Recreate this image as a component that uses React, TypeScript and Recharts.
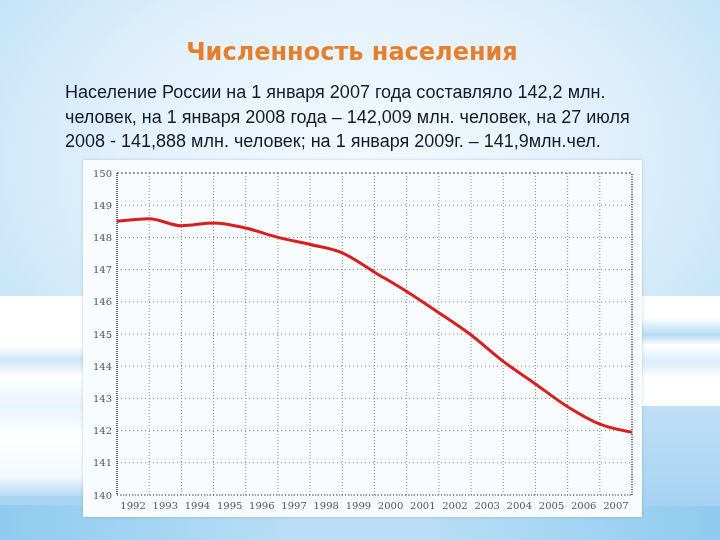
import React from 'react';
import { LineChart, Line, XAxis, YAxis, CartesianGrid, ReferenceLine } from 'recharts';

const years = [1992, 1993, 1994, 1995, 1996, 1997, 1998, 1999, 2000, 2001, 2002, 2003, 2004, 2005, 2006, 2007, 2008];
const population = [148.5, 148.58, 148.36, 148.45, 148.29, 148.0, 147.78, 147.52, 146.92, 146.32, 145.66, 144.97, 144.15, 143.45, 142.74, 142.2, 141.95];
const yearLabels = ['1992', '1993', '1994', '1995', '1996', '1997', '1998', '1999', '2000', '2001', '2002', '2003', '2004', '2005', '2006', '2007'];
const yTicks = [140, 141, 142, 143, 144, 145, 146, 147, 148, 149, 150];
const gridYears = [1993, 1994, 1995, 1996, 1997, 1998, 1999, 2000, 2001, 2002, 2003, 2004, 2005, 2006, 2007];

const title = 'Численность населения';
const paragraphLines = [
  'Население России на 1 января 2007 года составляло 142,2 млн.',
  'человек, на 1 января 2008 года – 142,009 млн. человек, на 27 июля',
  '2008 - 141,888 млн. человек; на 1 января 2009г. – 141,9млн.чел.',
];

const data = years.map((y, i) => ({ year: y, value: population[i] }));
const labelTicks = yearLabels.map((l) => Number(l) + 0.5);

export default function App() {
  return (
    <div
      style={{
        position: 'fixed',
        left: 0,
        top: 0,
        width: 720,
        height: 540,
        overflow: 'hidden',
        background:
          'radial-gradient(ellipse 75% 70% at 50% 30%, #f4fafe 0%, #e2f1fc 45%, #c4e3f8 80%, #a9d5f3 100%)',
      }}
    >
      {/* bottom band */}
      <div style={{ position: 'absolute', left: 0, top: 505, width: 720, height: 35, background: 'linear-gradient(90deg, #8fcbef 0%, #b9def6 40%, #b9def6 60%, #8fcbef 100%)' }} />
      {/* side streaks left */}
      <div style={{ position: 'absolute', left: 0, top: 296, width: 90, height: 200, background: 'linear-gradient(180deg, #ffffff 0%, #ffffff 25%, #cfe7f7 32%, #ffffff 40%, #e8f4fc 55%, #ffffff 70%, #f4f9fd 90%, #b4dbf4 100%)' }} />
      {/* side streaks right */}
      <div style={{ position: 'absolute', left: 640, top: 296, width: 80, height: 110, background: 'linear-gradient(180deg, #ffffff 0%, #ffffff 20%, #b5dbf4 35%, #ffffff 45%, #dcedf9 60%, #ffffff 75%, #ffffff 100%)' }} />
      <div style={{ position: 'absolute', left: 640, top: 406, width: 80, height: 100, background: 'linear-gradient(180deg, #bfe0f6 0%, #a6d3f2 100%)' }} />

      <div
        style={{
          position: 'absolute',
          left: 0,
          top: 37,
          width: 704,
          textAlign: 'center',
          fontFamily: '"DejaVu Sans", Verdana, sans-serif',
          fontWeight: 'bold',
          fontSize: 24,
          color: '#e57f2e',
          lineHeight: '30px',
        }}
      >
        {title}
      </div>
      <div
        style={{
          position: 'absolute',
          left: 65,
          top: 80,
          fontFamily: '"Liberation Sans", Arial, sans-serif',
          fontSize: 18,
          lineHeight: '24.5px',
          color: '#151a2c',
          whiteSpace: 'nowrap',
        }}
      >
        {paragraphLines.map((l, i) => (
          <div key={i}>{l}</div>
        ))}
      </div>

      {/* chart box */}
      <div
        style={{
          position: 'absolute',
          left: 83,
          top: 160,
          width: 559,
          height: 357,
          background: '#f9fcfe',
          boxShadow: '0 0 3px rgba(80,120,160,0.35)',
        }}
      >
        <LineChart width={559} height={357} data={data} margin={{ top: 13, right: 10, bottom: 0, left: 0 }}>
          <CartesianGrid vertical={false} stroke="#8a8a8a" strokeDasharray="1 3" />
          {gridYears.map((g) => (
            <ReferenceLine key={g} x={g} stroke="#8a8a8a" strokeDasharray="1 2" />
          ))}
          <ReferenceLine y={150} stroke="#555" strokeDasharray="2 2" />
          <ReferenceLine x={2008} stroke="#333" strokeDasharray="1 1.5" strokeWidth={1.5} />
          <XAxis
            dataKey="year"
            type="number"
            domain={[1992, 2008]}
            ticks={labelTicks}
            tickFormatter={(v: number) => String(Math.floor(v))}
            interval={0}
            height={22}
            tickLine={false}
            tickSize={0}
            tickMargin={7}
            axisLine={{ stroke: '#444', strokeDasharray: '1 2' }}
            tick={{ fontSize: 10, fill: '#555', fontFamily: '"DejaVu Serif", serif' }}
            allowDataOverflow
          />
          <YAxis
            type="number"
            domain={[140, 150]}
            ticks={yTicks}
            interval={0}
            width={34}
            tickLine={false}
            tickSize={0}
            tickMargin={5}
            axisLine={{ stroke: '#333', strokeDasharray: '1 1', strokeWidth: 1.5 }}
            tick={{ fontSize: 10, fill: '#555', fontFamily: '"DejaVu Serif", serif' }}
          />
          <Line
            type="monotone"
            dataKey="value"
            stroke="#d81f1f"
            strokeWidth={3}
            dot={false}
            isAnimationActive={false}
          />
        </LineChart>
      </div>
    </div>
  );
}
